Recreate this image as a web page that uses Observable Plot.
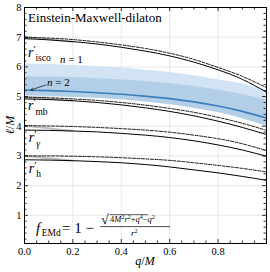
<!DOCTYPE html>
<html><head><meta charset="utf-8">
<script src="https://cdn.jsdelivr.net/npm/d3@7"></script>
<script src="https://cdn.jsdelivr.net/npm/@observablehq/plot@0.6"></script>
<style>body{margin:0;background:#fff}</style>
</head><body><div id="chart"></div>
<script>
const FONT = "Liberation Serif, Times New Roman, DejaVu Serif, serif";

// ---- data ----
const q = [0, 0.1, 0.2, 0.3, 0.4, 0.5, 0.6, 0.7, 0.8, 0.9, 1.0];
const iscoDashed  = [7.00, 6.97, 6.92, 6.84, 6.74, 6.62, 6.46, 6.25, 5.98, 5.68, 5.30];
const iscoSolid   = [6.95, 6.91, 6.85, 6.77, 6.66, 6.53, 6.37, 6.16, 5.90, 5.58, 5.15];
const mbDashed    = [4.98, 4.96, 4.92, 4.87, 4.80, 4.71, 4.60, 4.47, 4.30, 4.10, 3.86];
const mbSolid     = [4.92, 4.90, 4.86, 4.80, 4.72, 4.62, 4.50, 4.35, 4.17, 3.96, 3.72];
const gammaDashed = [4.02, 4.01, 3.99, 3.96, 3.92, 3.87, 3.80, 3.70, 3.58, 3.41, 3.18];
const gammaSolid  = [3.87, 3.86, 3.84, 3.81, 3.76, 3.70, 3.62, 3.51, 3.37, 3.20, 2.99];
const hDashed     = [3.00, 3.00, 2.99, 2.97, 2.94, 2.90, 2.85, 2.77, 2.68, 2.58, 2.46];
const hSolid      = [2.87, 2.86, 2.84, 2.81, 2.77, 2.71, 2.63, 2.53, 2.43, 2.31, 2.18];
const n1Upper     = [6.10, 6.08, 6.05, 6.01, 5.96, 5.89, 5.81, 5.70, 5.57, 5.42, 5.22];
const n2Upper     = [5.67, 5.66, 5.64, 5.60, 5.56, 5.51, 5.44, 5.34, 5.22, 5.07, 4.88];
const bandLower   = [5.03, 5.01, 4.98, 4.94, 4.89, 4.82, 4.73, 4.61, 4.46, 4.26, 4.00];
const shadowLine  = [5.22, 5.20, 5.17, 5.13, 5.08, 5.01, 4.93, 4.82, 4.68, 4.50, 4.28];
// light grey curves near q = 0
const qGray = [0, 0.1, 0.2];
const iscoGray  = [7.00, 6.93, 6.85];
const mbGray    = [4.98, 4.93, 4.86];
const gammaGray = [4.02, 3.93, 3.84];
const hGray     = [3.00, 2.92, 2.84];

const xMajor = [0, 0.2, 0.4, 0.6, 0.8];
const xGrid = [0.2, 0.4, 0.6, 0.8];
const yMajor = [1, 2, 3, 4, 5, 6, 7, 8];
const yGrid = [1, 2, 3, 4, 5, 6, 7];
const xMinor = d3.range(0.05, 1, 0.05).filter(v => Math.abs(v / 0.2 - Math.round(v / 0.2)) > 1e-6);
const yMinor = d3.range(0.2, 8, 0.2).filter(v => Math.abs(v - Math.round(v)) > 1e-6);
const X0 = 0, X1 = 1, Y0 = 0.05, Y1 = 8;

const labelNames = ["isco", "mb", "γ", "h"];
const labelQ = [0.017, 0.017, 0.02, 0.02];
const labelV = [6.32, 4.53, 3.45, 2.41];
const nTexts = ["1", "2"];
const nQ = [0.149, 0.095];
const nV = [6.11, 5.34];
const arrowFrom = {q: 0.088, v: 5.39};
const arrowTo = {q: 0.026, v: 5.22};
const title = "Einstein-Maxwell-dilaton";

// ---- tables ----
const dashedSets = {isco: iscoDashed, mb: mbDashed, gamma: gammaDashed, h: hDashed};
const solidSets = {isco: iscoSolid, mb: mbSolid, gamma: gammaSolid, h: hSolid};
const graySets = {isco: iscoGray, mb: mbGray, gamma: gammaGray, h: hGray};
const dashedRows = [], solidRows = [], grayRows = [];
for (const k in dashedSets) q.forEach((x, i) => dashedRows.push({key: k, q: x, v: dashedSets[k][i]}));
for (const k in solidSets) q.forEach((x, i) => solidRows.push({key: k, q: x, v: solidSets[k][i]}));
for (const k in graySets) qGray.forEach((x, i) => grayRows.push({key: k, q: x, v: graySets[k][i]}));
const bandRows = q.map((x, i) => ({q: x, lo: bandLower[i], hi1: n1Upper[i], hi2: n2Upper[i], s: shadowLine[i]}));

// ---- rich text marks ----
function rlabels(index, scales, values, dims) {
  const g = d3.create("svg:g").attr("font-family", FONT).attr("fill", "black").attr("text-anchor", "start");
  g.append("text").attr("x", scales.x(0.017)).attr("y", scales.y(7.48))
    .attr("font-size", 13).text(title);
  labelNames.forEach((nm, i) => {
    const t = g.append("text").attr("x", scales.x(labelQ[i])).attr("y", scales.y(labelV[i])).attr("font-size", 14);
    t.append("tspan").attr("font-style", "italic").text("r");
    t.append("tspan").attr("font-size", 11).attr("dy", -4).text("′");
    t.append("tspan").attr("font-size", 9.5).attr("dx", -0.5).attr("dy", 8.5)
      .attr("font-style", nm === "γ" ? "italic" : null).text(nm);
  });
  nTexts.forEach((s, i) => {
    const t = g.append("text").attr("x", scales.x(nQ[i])).attr("y", scales.y(nV[i])).attr("font-size", 11);
    t.append("tspan").attr("font-style", "italic").text("n");
    t.append("tspan").text(" = " + s);
  });
  // formula
  const fx = scales.x(0.05), fy = scales.y(0.4);
  const f = g.append("text").attr("x", fx).attr("y", fy).attr("font-size", 15);
  f.append("tspan").attr("font-style", "italic").text("f");
  f.append("tspan").attr("font-size", 9.5).attr("dx", 1.5).attr("dy", 3).text("EMd");
  g.append("text").attr("x", fx + 26).attr("y", fy).attr("font-size", 15).text("= 1 −");
  g.append("text").attr("x", fx + 65).attr("y", fy - 8.5).attr("font-size", 14).text("√");
  g.append("line").attr("x1", fx + 73.5).attr("x2", fx + 112).attr("y1", fy - 18).attr("y2", fy - 18)
    .attr("stroke", "black").attr("stroke-width", 0.6);
  const num = g.append("text").attr("x", fx + 74).attr("y", fy - 10.5).attr("font-size", 8.5);
  num.append("tspan").text("4");
  num.append("tspan").attr("font-style", "italic").text("M");
  num.append("tspan").attr("font-size", 6).attr("dy", -3).text("2");
  num.append("tspan").attr("font-style", "italic").attr("dy", 3).text("r");
  num.append("tspan").attr("font-size", 6).attr("dy", -3).text("2");
  num.append("tspan").attr("dy", 3).text("+");
  num.append("tspan").attr("font-style", "italic").text("q");
  num.append("tspan").attr("font-size", 6).attr("dy", -3).text("4");
  num.append("tspan").attr("dy", 3).text("−");
  num.append("tspan").attr("font-style", "italic").text("q");
  num.append("tspan").attr("font-size", 6).attr("dy", -3).text("2");
  g.append("line").attr("x1", fx + 64).attr("x2", fx + 134).attr("y1", fy - 6).attr("y2", fy - 6)
    .attr("stroke", "black").attr("stroke-width", 0.7);
  const den = g.append("text").attr("x", fx + 95).attr("y", fy + 3.5).attr("font-size", 9);
  den.append("tspan").attr("font-style", "italic").text("r");
  den.append("tspan").attr("font-size", 6).attr("dy", -3).text("2");
  // axis labels
  const cx = (dims.marginLeft + dims.width - dims.marginRight) / 2;
  const xl = g.append("text").attr("x", cx).attr("y", dims.height - 7).attr("font-size", 12).attr("text-anchor", "middle");
  xl.append("tspan").attr("font-style", "italic").text("q");
  xl.append("tspan").text("/");
  xl.append("tspan").attr("font-style", "italic").text("M");
  const cy = (dims.marginTop + dims.height - dims.marginBottom) / 2;
  const yl = g.append("text").attr("transform", `translate(${14},${cy}) rotate(-90)`)
    .attr("font-size", 12).attr("text-anchor", "middle");
  yl.append("tspan").attr("font-style", "italic").text("ℓ");
  yl.append("tspan").text("/");
  yl.append("tspan").attr("font-style", "italic").text("M");
  return g.node();
}

const tick = () => ({stroke: "black", strokeWidth: 0.8});
const chart = Plot.plot({
  width: 270, height: 272,
  marginTop: 7, marginRight: 4, marginBottom: 29, marginLeft: 24,
  x: {domain: [X0, X1]},
  y: {domain: [Y0, Y1]},
  style: {fontFamily: FONT, fontSize: "10.5px", background: "white", color: "black"},
  marks: [
    Plot.gridX(xGrid, {stroke: "#d9d9d9", strokeOpacity: 1, strokeWidth: 0.6}),
    Plot.gridY(yGrid, {stroke: "#d9d9d9", strokeOpacity: 1, strokeWidth: 0.6}),
    Plot.areaY(bandRows, {x: "q", y1: "lo", y2: "hi1", fill: "#d2e3f3", curve: "natural"}),
    Plot.areaY(bandRows, {x: "q", y1: "lo", y2: "hi2", fill: "#b3cfe7", curve: "natural"}),
    Plot.line(bandRows, {x: "q", y: "s", stroke: "#3b7dbd", strokeWidth: 1.6, curve: "natural"}),
    Plot.line(grayRows, {x: "q", y: "v", z: "key", stroke: "#bdbdbd", strokeWidth: 2, curve: "natural"}),
    Plot.line(solidRows, {x: "q", y: "v", z: "key", stroke: "black", strokeWidth: 1, curve: "natural"}),
    Plot.line(dashedRows, {x: "q", y: "v", z: "key", stroke: "black", strokeWidth: 0.9, strokeDasharray: "3,1.5", curve: "natural"}),
    Plot.arrow([0], {x1: () => arrowFrom.q, y1: () => arrowFrom.v, x2: () => arrowTo.q, y2: () => arrowTo.v,
      stroke: "#222", strokeWidth: 0.8, headLength: 5, bend: false}),
    Plot.ruleX(xMajor, {x: d => d, y1: Y0, y2: Y0, insetTop: -4, ...tick()}),
    Plot.ruleX(xMinor, {x: d => d, y1: Y0, y2: Y0, insetTop: -2.5, ...tick()}),
    Plot.ruleX(xMajor, {x: d => d, y1: Y1, y2: Y1, insetBottom: -4, ...tick()}),
    Plot.ruleX(xMinor, {x: d => d, y1: Y1, y2: Y1, insetBottom: -2.5, ...tick()}),
    Plot.ruleY(yMajor, {y: d => d, x1: X0, x2: X0, insetRight: -4, ...tick()}),
    Plot.ruleY(yMinor, {y: d => d, x1: X0, x2: X0, insetRight: -2.5, ...tick()}),
    Plot.ruleY(yMajor, {y: d => d, x1: X1, x2: X1, insetLeft: -4, ...tick()}),
    Plot.ruleY(yMinor, {y: d => d, x1: X1, x2: X1, insetLeft: -2.5, ...tick()}),
    Plot.axisX(xMajor, {tickSize: 0, tickPadding: 4, tickFormat: d3.format(".1f"), label: null, fontFamily: FONT}),
    Plot.axisY(yMajor, {tickSize: 0, tickPadding: 3, label: null, fontFamily: FONT}),
    Plot.frame({stroke: "black", strokeWidth: 1}),
    rlabels
  ]
});
document.getElementById("chart").appendChild(chart);
</script>
</body></html>
